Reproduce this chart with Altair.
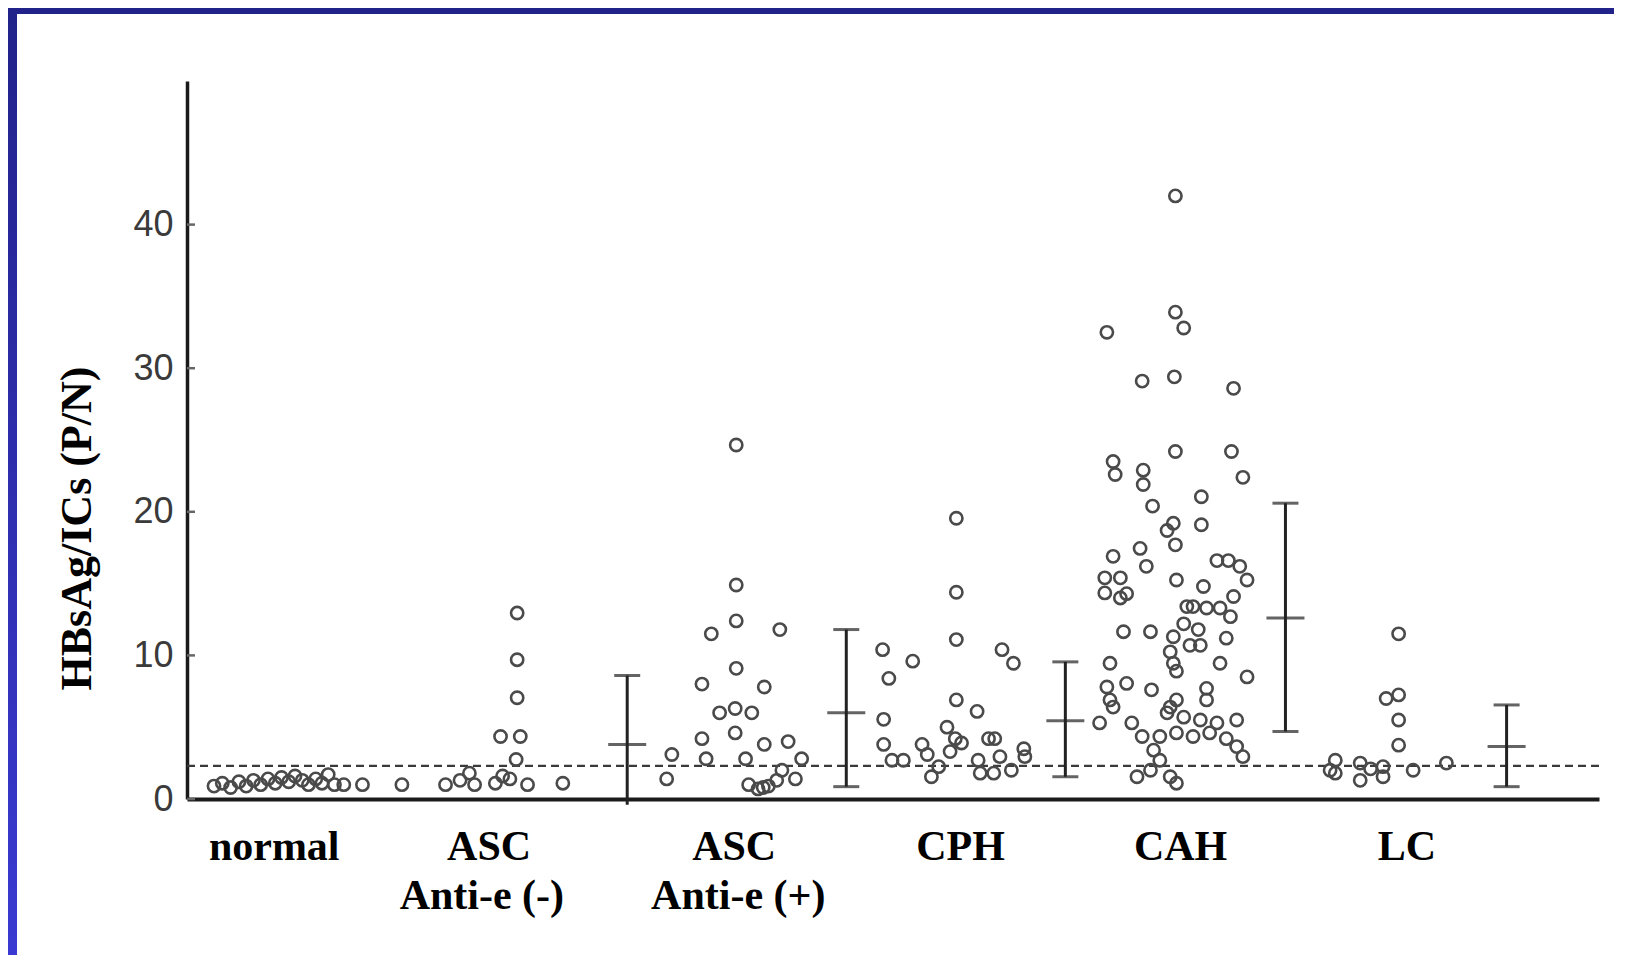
import altair as alt
import pandas as pd

# ---------------- data ----------------
# x = horizontal jitter position (arbitrary units, axis at 0, right end at 136)
# y = HBsAg/ICs (P/N)
normal_x = [2.6, 3.4, 4.2, 5.0, 5.7, 6.4, 7.1, 7.8, 8.5, 9.1, 9.8, 10.4, 11.1, 11.7, 12.4, 13.0, 13.6, 14.2, 15.1, 16.9]
normal_y = [0.9, 1.1, 0.8, 1.2, 0.9, 1.3, 1.0, 1.4, 1.1, 1.5, 1.2, 1.6, 1.3, 1.0, 1.4, 1.1, 1.7, 1.0, 1.0, 1.0]

ascn_x = [20.7, 24.9, 26.3, 27.2, 27.7, 29.7, 30.4, 31.1, 32.8, 36.2, 31.8, 31.8, 31.8, 30.2, 32.1, 31.7]
ascn_y = [1.0, 1.0, 1.3, 1.8, 1.0, 1.1, 1.6, 1.4, 1.0, 1.1, 12.95, 9.7, 7.05, 4.35, 4.35, 2.75]

ascp_x = [52.9, 52.9, 52.9, 50.5, 57.1, 52.9, 49.6, 55.6, 51.3, 52.8, 54.4, 52.8, 49.6, 55.6, 57.9,
          50.0, 53.8, 46.7, 46.2, 59.2, 57.3, 58.6, 54.1, 55.5, 56.8, 55.0, 56.0]
ascp_y = [24.65, 14.9, 12.4, 11.5, 11.8, 9.1, 8.0, 7.8, 6.0, 6.3, 6.0, 4.6, 4.2, 3.8, 4.0,
          2.8, 2.8, 3.1, 1.4, 2.8, 2.0, 1.4, 1.0, 0.8, 1.3, 0.7, 0.9]

cph_x = [74.1, 74.1, 74.1, 67.0, 69.9, 67.6, 78.5, 79.6, 74.1, 76.1, 67.1, 67.1, 73.2, 74.0, 77.8, 80.6,
         70.8, 74.6, 67.9, 69.0, 71.3, 72.4, 71.7, 73.5, 76.2, 76.4, 77.7, 78.3, 79.4, 80.7, 77.2]
cph_y = [19.55, 14.4, 11.1, 10.4, 9.6, 8.4, 10.4, 9.45, 6.9, 6.1, 5.55, 3.8, 5.0, 4.2, 4.2, 3.5,
         3.8, 3.9, 2.7, 2.7, 3.1, 2.25, 1.55, 3.3, 2.7, 1.8, 1.8, 2.95, 2.0, 2.95, 4.2]

cah_x = [95.2, 95.2, 96.0, 88.6, 92.0, 95.1, 100.8, 95.2, 100.6, 89.2, 89.4, 92.1, 101.7, 92.1, 97.7,
         93.0, 95.0, 94.4, 97.7, 95.2, 91.8, 89.2, 92.4, 88.4, 88.4, 89.9, 90.5, 89.9, 95.3, 99.2,
         100.3, 101.4, 102.1, 97.9, 96.9, 98.2, 99.5, 100.8, 100.5, 96.3, 90.2, 92.8, 96.0, 95.0, 97.4,
         100.1, 94.7, 96.6, 97.6, 88.9, 95.0, 95.3, 99.5, 102.1, 88.6, 90.5, 92.9, 88.9, 89.2, 98.2,
         98.2, 94.7, 95.3, 94.4, 87.9, 91.0, 96.0, 97.6, 99.2, 101.1, 92.0, 93.7, 95.3, 96.9, 98.5,
         100.1, 101.1, 101.7, 93.1, 93.7, 92.8, 91.5, 94.7, 95.3]
cah_y = [42.0, 33.9, 32.8, 32.5, 29.1, 29.4, 28.6, 24.2, 24.2, 23.5, 22.6, 22.9, 22.4, 21.9, 21.05,
         20.4, 19.2, 18.7, 19.1, 17.7, 17.45, 16.9, 16.2, 15.4, 14.35, 15.4, 14.3, 14.0, 15.25, 16.6,
         16.6, 16.2, 15.25, 14.8, 13.4, 13.3, 13.3, 14.1, 12.7, 13.4, 11.65, 11.65, 12.2, 11.3, 11.8,
         11.2, 10.25, 10.7, 10.7, 9.45, 9.45, 8.9, 9.45, 8.5, 7.8, 8.05, 7.6, 6.9, 6.4, 7.7,
         6.9, 6.4, 6.9, 6.0, 5.3, 5.3, 5.7, 5.5, 5.3, 5.5, 4.35, 4.35, 4.6, 4.35, 4.6,
         4.2, 3.65, 2.95, 3.4, 2.7, 2.0, 1.55, 1.55, 1.1]

lc_x = [116.7, 115.5, 116.7, 116.7, 116.7, 110.6, 110.6, 110.1, 113.0, 113.0, 115.2, 115.2, 118.1, 121.3, 114.0]
lc_y = [11.5, 7.0, 7.25, 5.5, 3.75, 2.7, 1.8, 2.0, 2.5, 1.3, 2.25, 1.55, 2.0, 2.5, 2.1]

# mean +/- SD bars
bar_x = [42.4, 63.5, 84.6, 105.8, 127.1]
bar_mean = [3.8, 6.0, 5.45, 12.6, 3.65]
bar_low = [-0.4, 0.86, 1.55, 4.7, 0.86]
bar_high = [8.6, 11.8, 9.55, 20.6, 6.55]

cutoff = 2.3
y_ticks = [0, 10, 20, 30, 40]

label_line1 = ["normal", "ASC", "ASC", "CPH", "CAH", "LC"]
label_line1_x = [8.4, 29.1, 52.7, 74.5, 95.7, 117.5]
label_line2 = ["Anti-e (-)", "Anti-e (+)"]
label_line2_x = [28.4, 53.1]

# ---------------- build tables ----------------
rows = []
for g, xs_, ys_ in [("normal", normal_x, normal_y), ("ASC Anti-e (-)", ascn_x, ascn_y),
                    ("ASC Anti-e (+)", ascp_x, ascp_y), ("CPH", cph_x, cph_y),
                    ("CAH", cah_x, cah_y), ("LC", lc_x, lc_y)]:
    for a, b in zip(xs_, ys_):
        rows.append({"group": g, "x": a, "y": b})
pts = pd.DataFrame(rows)
bars = pd.DataFrame({"bx": bar_x, "mean": bar_mean, "low": bar_low, "high": bar_high})

W, H = 1412, 718
PL, PT, PR, PB = 179, 73, 15, 156

xs = alt.Scale(domain=[0, 136], nice=False, zero=False)
ys = alt.Scale(domain=[0, 50], nice=False, zero=False)

axX = alt.Axis(labels=False, ticks=False, title=None, grid=False,
               domainColor="#1a1a1a", domainWidth=4)
axY = alt.Axis(values=y_ticks, ticks=False, grid=False,
               labelFont="Liberation Sans", labelFontSize=36, labelColor="#3a3a3a", labelPadding=14,
               domainColor="#1a1a1a", domainWidth=3.5,
               title="HBsAg/ICs (P/N)", titleFont="Liberation Serif", titleFontWeight="bold",
               titleFontSize=44, titleColor="black", titleX=-110, titleY=447, titleAngle=-90,
               titleAlign="center", titleBaseline="middle")


def X(f):
    return alt.X(f, scale=xs, axis=axX)


def Y(f):
    return alt.Y(f, scale=ys, axis=axY)


one = pd.DataFrame({"a": [0]})

left_strip = alt.Chart(one).mark_rect(
    color=alt.Gradient(gradient="linear",
                       stops=[alt.GradientStop(color="#22228a", offset=0),
                              alt.GradientStop(color="#3a3ad2", offset=1)],
                       x1=0, x2=0, y1=0, y2=1)
).encode(x=alt.value(-PL), x2=alt.value(-PL + 9), y=alt.value(-PT), y2=alt.value(H + PB))

top_strip = alt.Chart(one).mark_rect(color="#21228a").encode(
    x=alt.value(-PL), x2=alt.value(W + PR), y=alt.value(-PT), y2=alt.value(-PT + 6))

dashed = alt.Chart(pd.DataFrame({"c": [cutoff], "x0": [0], "x1": [136]})).mark_rule(
    strokeDash=[8, 5], color="#3a3a3a", strokeWidth=2.2
).encode(x=X("x0:Q"), x2="x1:Q", y=Y("c:Q"))

yticks = alt.Chart(pd.DataFrame({"t": y_ticks})).mark_rule(color="#666", strokeWidth=2.5).encode(
    y=Y("t:Q"), x=alt.value(0), x2=alt.value(8))

points = alt.Chart(pts).mark_point(
    shape="circle", filled=False, size=150, strokeWidth=2.6, color="#4a4a4a", opacity=1
).encode(x=X("x:Q"), y=Y("y:Q"))

bar_rule = alt.Chart(bars).mark_rule(color="#222", strokeWidth=3).encode(
    x=X("bx:Q"), y=Y("low:Q"), y2="high:Q")
cap_hi = alt.Chart(bars).mark_tick(orient="horizontal", size=26, thickness=3, color="#222").encode(
    x=X("bx:Q"), y=Y("high:Q"))
cap_lo = alt.Chart(bars).transform_filter("datum.low > 0").mark_tick(
    orient="horizontal", size=26, thickness=3, color="#222").encode(
    x=X("bx:Q"), y=Y("low:Q"))
mean_t = alt.Chart(bars).mark_tick(orient="horizontal", size=38, thickness=3, color="#222").encode(
    x=X("bx:Q"), y=Y("mean:Q"))

lab1 = alt.Chart(pd.DataFrame({"t": label_line1, "x": label_line1_x})).mark_text(
    font="Liberation Serif", fontWeight="bold", fontSize=42, color="black",
    baseline="alphabetic", align="center"
).encode(x=X("x:Q"), y=alt.value(779), text="t:N")

lab2 = alt.Chart(pd.DataFrame({"t": label_line2, "x": label_line2_x})).mark_text(
    font="Liberation Serif", fontWeight="bold", fontSize=42, color="black",
    baseline="alphabetic", align="center"
).encode(x=X("x:Q"), y=alt.value(828), text="t:N")

chart = alt.layer(
    left_strip, top_strip, dashed, yticks, bar_rule, cap_hi, cap_lo, mean_t, points, lab1, lab2
).properties(
    width=W, height=H,
    padding={"left": PL, "top": PT, "right": PR, "bottom": PB},
    autosize=alt.AutoSizeParams(type="none"),
    background="white",
).configure_view(strokeWidth=0)

chart.save("out.html", embed_options={"renderer": "svg", "actions": False})
